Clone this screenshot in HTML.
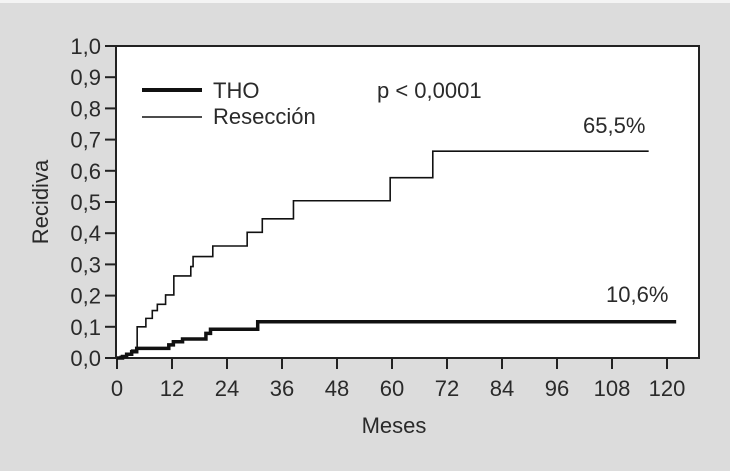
<!DOCTYPE html>
<html><head><meta charset="utf-8"><style>
body{margin:0;background:#dcdcdc;}
svg{display:block;font-family:"Liberation Sans",sans-serif;}
text{fill:#2a2a2a;}
</style></head><body>
<svg id="chart" width="730" height="471">
<rect x="0" y="0" width="730" height="3" fill="#f4f4f4"/>
<rect x="116" y="46" width="583" height="312" fill="#fff" stroke="#222" stroke-width="2"/>
<g id="axes"></g>
<g id="series"></g>
<g>
<line x1="142" y1="90" x2="202" y2="90" stroke="#111" stroke-width="4"/>
<text x="213" y="98" font-size="22">THO</text>
<line x1="142" y1="117" x2="202" y2="117" stroke="#111" stroke-width="1.6"/>
<text x="213" y="124" font-size="22">Resección</text>
</g>
<text x="377" y="98" font-size="22">p &lt; 0,0001</text>
<text x="583" y="133" font-size="22">65,5%</text>
<text x="606" y="302" font-size="22">10,6%</text>
<text x="394" y="433" font-size="22" text-anchor="middle">Meses</text>
<text transform="translate(48,202) rotate(-90)" font-size="22" text-anchor="middle">Recidiva</text>
</svg>
<script>
const xTicks=[0,12,24,36,48,60,72,84,96,108,120];
const yTicks=[0,0.1,0.2,0.3,0.4,0.5,0.6,0.7,0.8,0.9,1.0];
const resMonths=[0,0.7,2.1,3.2,4.4,6.3,7.7,8.8,10.6,12.4,16.1,16.6,20.9,28.4,31.7,38.5,59.6,68.9,116];
const resValues=[0,0.005,0.015,0.025,0.10,0.127,0.152,0.172,0.202,0.263,0.293,0.325,0.359,0.403,0.446,0.504,0.578,0.663,0.663];
const thoMonths=[0,1.2,2.1,3.2,4.3,11.3,12.3,14.3,19.4,20.4,30.7,122];
const thoValues=[0,0.005,0.012,0.02,0.031,0.042,0.052,0.061,0.079,0.092,0.116,0.116];
const X=m=>117+m*(550/120);
const Y=v=>358-v*312;
const NS='http://www.w3.org/2000/svg';
const axes=document.getElementById('axes');
function mk(tag,attrs,parent){const e=document.createElementNS(NS,tag);for(const k in attrs)e.setAttribute(k,attrs[k]);parent.appendChild(e);return e;}
xTicks.forEach(t=>{
 const l=mk('line',{x1:X(t),x2:X(t),y1:358,y2:369,stroke:'#222','stroke-width':2},axes);
 
 
 const tx=mk('text',{x:X(t),y:396,'font-size':22,'text-anchor':'middle'},axes);
 tx.textContent=t;
 
 
});
yTicks.forEach(t=>{
 const l=mk('line',{x1:105,x2:116,y1:Y(t),y2:Y(t),stroke:'#222','stroke-width':2},axes);
 
 
 const tx=mk('text',{x:101,y:Y(t)+8,'font-size':22,'text-anchor':'end'},axes);
 tx.textContent=t.toFixed(1).replace('.',',');
 
 
});
function step(ms,vs){let d='M'+X(ms[0])+','+Y(vs[0]);for(let i=1;i<ms.length;i++){d+=' H'+X(ms[i])+' V'+Y(vs[i]);}return d;}
const s=document.getElementById('series');
const p1=mk('path',{d:step(resMonths,resValues),fill:'none',stroke:'#111','stroke-width':1.6},s);


const p2=mk('path',{d:step(thoMonths,thoValues),fill:'none',stroke:'#111','stroke-width':3.5},s);


</script>
</body></html>
